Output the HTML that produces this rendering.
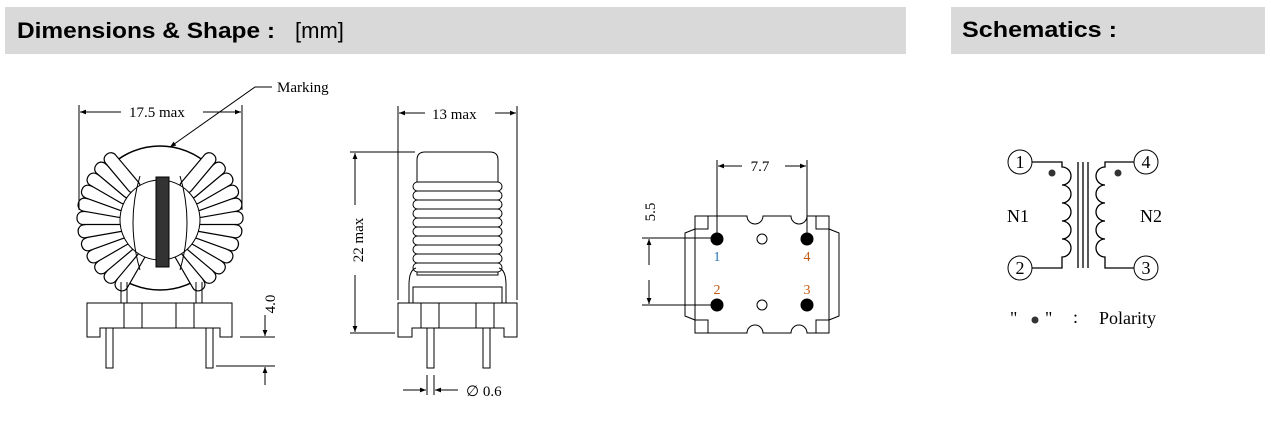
<!DOCTYPE html>
<html><head><style>
body{margin:0;background:#fff;width:1271px;height:433px;overflow:hidden}
svg{display:block}
</style></head><body>
<svg width="1271" height="433" viewBox="0 0 1271 433" xmlns="http://www.w3.org/2000/svg" font-family="Liberation Serif, serif">
<defs>
<marker id="ar" viewBox="0 0 10 10" refX="10" refY="5" markerWidth="12" markerHeight="6" orient="auto-start-reverse" markerUnits="userSpaceOnUse"><path d="M0,1 L10,5 L0,9 z" fill="#000"/></marker>
<rect id="w" x="153.5" y="135" width="13" height="48" rx="6" fill="#fff" stroke="#000" stroke-width="1.2"/>
</defs>
<rect x="5" y="7" width="901" height="47" fill="#d9d9d9"/>
<rect x="951" y="7" width="314" height="47" fill="#d9d9d9"/>
<text x="17" y="38" font-family="Liberation Sans, sans-serif" font-size="22" font-weight="bold" textLength="258" lengthAdjust="spacingAndGlyphs">Dimensions &amp; Shape :</text>
<text x="295" y="38" font-family="Liberation Sans, sans-serif" font-size="22">[mm]</text>
<text x="962" y="37" font-family="Liberation Sans, sans-serif" font-size="22" font-weight="bold" textLength="155" lengthAdjust="spacingAndGlyphs">Schematics :</text>

<g stroke="#000" stroke-width="1" fill="none">
<!-- toroid -->
<circle cx="160" cy="218" r="72" fill="#fff" stroke-width="1.5"/>
<g>
<use href="#w" transform="rotate(-150 160 218)"/><use href="#w" transform="rotate(-140 160 218)"/><use href="#w" transform="rotate(-130 160 218)"/><use href="#w" transform="rotate(-120 160 218)"/><use href="#w" transform="rotate(-110 160 218)"/><use href="#w" transform="rotate(-100 160 218)"/><use href="#w" transform="rotate(-90 160 218)"/><use href="#w" transform="rotate(-80 160 218)"/><use href="#w" transform="rotate(-70 160 218)"/><use href="#w" transform="rotate(-60 160 218)"/><use href="#w" transform="rotate(-50 160 218)"/><use href="#w" transform="rotate(-40 160 218)"/>
<use href="#w" transform="rotate(150 160 218)"/><use href="#w" transform="rotate(140 160 218)"/><use href="#w" transform="rotate(130 160 218)"/><use href="#w" transform="rotate(120 160 218)"/><use href="#w" transform="rotate(110 160 218)"/><use href="#w" transform="rotate(100 160 218)"/><use href="#w" transform="rotate(90 160 218)"/><use href="#w" transform="rotate(80 160 218)"/><use href="#w" transform="rotate(70 160 218)"/><use href="#w" transform="rotate(60 160 218)"/><use href="#w" transform="rotate(50 160 218)"/><use href="#w" transform="rotate(40 160 218)"/>
</g>
<circle cx="160" cy="220" r="40" fill="#fff"/>
<rect x="156" y="177" width="13" height="90" fill="#333"/>
<path d="M140 176 Q126 222 140 270 M180 176 Q194 222 180 270"/>
<path d="M121 303 L121 282 M127 303 L127 282 M196 303 L196 282 M202 303 L202 282"/>
<path d="M87 303 H232 V337 H220 V328 H100 V337 H87 Z" fill="#fff"/>
<path d="M124 303 V328 M142 303 V328 M176 303 V328 M194 303 V328"/>
<rect x="106" y="328" width="7" height="40" fill="#fff"/><rect x="206" y="328" width="7" height="40" fill="#fff"/>
<!-- dims -->
<path d="M79 105 V210 M242 105 V210"/>
<path d="M121 112 H80" marker-end="url(#ar)"/><path d="M203 112 H241" marker-end="url(#ar)"/>
<path d="M272 87 H255 L170 147" marker-end="url(#ar)"/>
<path d="M240 337 H275 M216 366 H275"/>
<path d="M265 315 V336" marker-end="url(#ar)"/><path d="M265 385 V367" marker-end="url(#ar)"/>

<!-- side view -->
<path d="M417 160 Q417 152 425 152 H490 Q498 152 498 160 V275 H417 Z" fill="#fff"/>
<g fill="#fff">
<rect x="413" y="182" width="89" height="9" rx="4.5"/><rect x="413" y="191" width="89" height="9" rx="4.5"/><rect x="413" y="200" width="89" height="9" rx="4.5"/><rect x="413" y="209" width="89" height="9" rx="4.5"/><rect x="413" y="218" width="89" height="9" rx="4.5"/><rect x="413" y="227" width="89" height="9" rx="4.5"/><rect x="413" y="236" width="89" height="9" rx="4.5"/><rect x="413" y="245" width="89" height="9" rx="4.5"/><rect x="413" y="254" width="89" height="9" rx="4.5"/><rect x="413" y="263" width="89" height="9" rx="4.5"/>
</g>
<path d="M409 303 V285 Q409 270 416 268 M413 303 V287 H502 V303 M506 303 V285 Q506 270 499 268"/>
<path d="M398 303 H517 V337 H504 V328 H412 V337 H398 Z" fill="#fff"/>
<path d="M421 303 V328 M439 303 V328 M476 303 V328 M494 303 V328"/>
<rect x="427" y="328" width="7" height="40" fill="#fff"/><rect x="483" y="328" width="7" height="40" fill="#fff"/>
<path d="M398 106 V300 M517 106 V300"/>
<path d="M425 113 H399" marker-end="url(#ar)"/><path d="M495 113 H516" marker-end="url(#ar)"/>
<path d="M350 152 H415 M350 333 H395"/>
<path d="M355 205 V153" marker-end="url(#ar)"/><path d="M355 275 V332" marker-end="url(#ar)"/>
<path d="M427 375 V395 M434 375 V395"/>
<path d="M403 390 H426" marker-end="url(#ar)"/><path d="M458 390 H435" marker-end="url(#ar)"/>

<!-- footprint -->
<path d="M695 216 H747 A8 8 0 0 0 763 216 H791 A8 8 0 0 0 807 216 H829 V333 H807 A8 8 0 0 0 791 333 H763 A8 8 0 0 0 747 333 H695 Z" fill="#fff"/>
<path d="M695 229 L685 233 V316 L695 320 M829 229 L839 233 V316 L829 320"/>
<path d="M695 229 H708 V216 M829 229 H816 V216 M695 320 H708 V333 M829 320 H816 V333"/>
<circle cx="717" cy="239" r="6" fill="#000"/><circle cx="807" cy="239" r="6" fill="#000"/>
<circle cx="717" cy="305" r="6" fill="#000"/><circle cx="807" cy="305" r="6" fill="#000"/>
<circle cx="762" cy="239" r="5"/><circle cx="762" cy="305" r="5"/>
<path d="M717 160 V238 M807 160 V238"/>
<path d="M742 166 H718" marker-end="url(#ar)"/><path d="M785 166 H806" marker-end="url(#ar)"/>
<path d="M642 238 H716 M642 305 H716"/>
<path d="M649 265 V239" marker-end="url(#ar)"/><path d="M649 280 V304" marker-end="url(#ar)"/>

<!-- schematic -->
<circle cx="1020" cy="162" r="12"/><circle cx="1146" cy="162" r="12"/>
<circle cx="1020" cy="268" r="12"/><circle cx="1146" cy="268" r="12"/>
<path d="M1032 162 H1062 V167 A9 9 0 0 1 1062 185 A9 9 0 0 1 1062 203 A9 9 0 0 1 1062 221 A9 9 0 0 1 1062 239 A9 9 0 0 1 1062 257 V268 H1032" stroke-width="1.3"/>
<path d="M1134 162 H1105 V167 A9 9 0 0 0 1105 185 A9 9 0 0 0 1105 203 A9 9 0 0 0 1105 221 A9 9 0 0 0 1105 239 A9 9 0 0 0 1105 257 V268 H1134" stroke-width="1.3"/>
<path d="M1078 162 V268 M1083 162 V268 M1088 162 V268" stroke-width="1.3"/>
</g>
<circle cx="1052" cy="173" r="3.5" fill="#333"/><circle cx="1118" cy="173" r="3.5" fill="#333"/>
<circle cx="1035" cy="320" r="3.5" fill="#333"/>

<g font-size="15" fill="#000">
<text x="277" y="92">Marking</text>
<text x="129" y="117">17.5 max</text>
<text x="432" y="119">13 max</text>
<text x="466" y="396">&#8709; 0.6</text>
<text x="760" y="171" text-anchor="middle">7.7</text>
<text transform="translate(275 304) rotate(-90)" text-anchor="middle">4.0</text>
<text transform="translate(363 240) rotate(-90)" text-anchor="middle">22 max</text>
<text transform="translate(655 212) rotate(-90)" text-anchor="middle">5.5</text>
<text x="717" y="261" text-anchor="middle" fill="#2e75b6" font-size="14">1</text>
<text x="807" y="261" text-anchor="middle" fill="#c55a11" font-size="14">4</text>
<text x="717" y="294" text-anchor="middle" fill="#c55a11" font-size="14">2</text>
<text x="807" y="294" text-anchor="middle" fill="#c55a11" font-size="14">3</text>
<g font-size="18">
<text x="1020" y="168" text-anchor="middle">1</text><text x="1146" y="168" text-anchor="middle">4</text>
<text x="1020" y="274" text-anchor="middle">2</text><text x="1146" y="274" text-anchor="middle">3</text>
<text x="1007" y="222">N1</text><text x="1140" y="222">N2</text>
<text x="1010" y="324">"</text><text x="1045" y="324">"</text><text x="1073" y="323">:</text><text x="1099" y="324">Polarity</text>
</g>
</g>
</svg>
</body></html>
